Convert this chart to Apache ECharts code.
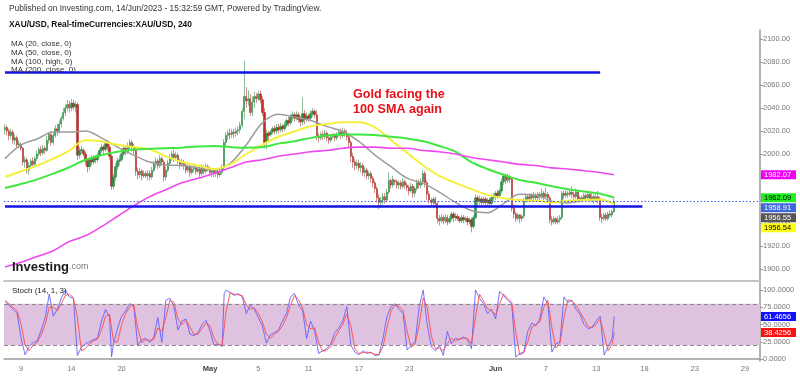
<!DOCTYPE html>
<html>
<head>
<meta charset="utf-8">
<script src="https://cdn.jsdelivr.net/npm/echarts@6/dist/echarts.min.js"></script>
<style>
  html, body { margin: 0; padding: 0; background: #fff; }
  #chart { width: 800px; height: 376px; }
</style>
</head>
<body>
<div id="chart"></div>
<script>
// XAU/USD 4h candles, 5 Apr -> 14 Jun 2023, [open, close, low, high]
const candles = [
  [2021,2023,2017,2026],[2023,2020,2016,2025],
  [2020,2016,2012,2022],[2016,2019,2013,2022],[2019,2012,2009,2021],[2012,2014,2008,2017],[2014,2008,2005,2016],[2008,2009,2005,2012],
  [2008,2005,2003,2010],
  [2005,1993,1990,2006],[1993,1995,1988,1998],[1995,1986,1983,1997],[1986,1990,1982,1993],[1990,1994,1987,1996],[1994,1991,1988,1997],
  [1991,1996,1989,1998],[1996,2000,1994,2003],[2000,2004,1998,2006],[2004,2001,1998,2007],[2001,2005,1999,2008],[2005,2003,2000,2007],
  [2003,2012,2002,2016],[2012,2017,2009,2019],[2017,2010,2007,2020],[2010,2016,2008,2019],[2016,2022,2014,2025],[2022,2020,2016,2026],
  [2020,2026,2018,2029],[2026,2031,2023,2033],[2031,2036,2029,2040],[2036,2040,2033,2043],[2040,2043,2037,2047],[2043,2040,2036,2046],
  [2040,2044,2037,2048],[2044,2041,2038,2047],[2041,2043,2036,2046],[2043,1999,1995,2045],[1999,2003,1996,2006],[2003,2004,2000,2007],
  [2003,2000,1998,2005],
  [2000,1994,1990,2002],[1994,1989,1984,1996],[1989,1995,1986,1997],[1995,1993,1990,1999],[1993,1996,1991,1999],[1996,1995,1992,1999],
  [1995,1999,1993,2001],[1999,2003,1997,2005],[2003,2006,2001,2009],[2006,2004,2000,2008],[2004,2009,2002,2012],[2009,2006,2003,2012],
  [2006,1998,1995,2009],[1998,1972,1969,2000],[1972,1980,1969,1983],[1980,1989,1977,1992],[1989,1994,1986,1997],[1994,1995,1990,1999],
  [1995,2000,1993,2003],[2000,2005,1998,2008],[2005,2002,1999,2008],[2002,2007,2000,2010],[2007,2010,2004,2013],[2010,2006,2002,2012],
  [2006,2003,2000,2009],[2003,1985,1981,2005],[1985,1982,1978,1988],[1982,1985,1979,1988],[1985,1981,1977,1987],[1981,1983,1979,1986],
  [1983,1981,1979,1985],
  [1981,1983,1977,1986],[1983,1980,1977,1986],[1980,1986,1978,1989],[1986,1991,1984,1994],[1991,1994,1988,1997],[1994,1990,1987,1996],
  [1990,1996,1988,1999],[1996,1993,1990,1998],[1993,1980,1976,1995],[1980,1986,1977,1989],[1986,1992,1984,1995],[1992,1997,1990,2000],
  [1997,2000,1994,2003],[2000,1997,1993,2004],[1997,1999,1994,2002],[1999,1994,1991,2001],[1994,1991,1987,1996],[1991,1993,1989,1996],
  [1993,1990,1986,1995],[1990,1986,1983,1992],[1986,1989,1984,1991],[1989,1984,1980,1991],[1984,1987,1982,1990],[1987,1988,1984,1991],
  [1988,1985,1982,1990],[1985,1987,1983,1989],[1987,1983,1980,1989],[1983,1988,1981,1991],[1988,1985,1982,1990],[1985,1989,1983,1992],
  [1989,1987,1985,1991],
  [1987,1984,1981,1989],[1984,1986,1980,1988],[1986,1983,1980,1988],[1983,1985,1980,1987],[1985,1982,1979,1987],[1982,1984,1980,1986],
  [1984,1988,1982,1991],[1988,2010,1986,2013],[2010,2016,2006,2019],[2016,2018,2012,2021],[2018,2017,2013,2022],[2017,2019,2014,2022],
  [2019,2018,2014,2022],[2018,2020,2015,2023],[2020,2021,2016,2024],[2021,2025,2018,2028],[2025,2037,2023,2040],[2037,2050,2030,2081],
  [2050,2046,2040,2058],[2046,2048,2042,2055],[2048,2036,2033,2052],[2036,2045,2033,2050],[2045,2050,2040,2054],[2050,2048,2044,2053],
  [2048,2052,2046,2055],[2052,2047,2044,2055],[2047,2036,2033,2050],[2036,2010,2005,2040],[2010,2018,2004,2021],[2018,2016,2012,2020],
  [2017,2019,2015,2021],
  [2019,2022,2017,2024],[2022,2020,2017,2025],[2020,2023,2018,2026],[2023,2021,2018,2026],[2021,2024,2019,2027],[2024,2022,2019,2026],
  [2022,2025,2020,2028],[2025,2029,2023,2031],[2029,2027,2024,2032],[2027,2032,2025,2035],[2032,2034,2029,2037],[2034,2031,2028,2036],
  [2031,2034,2029,2037],[2034,2030,2027,2036],[2030,2028,2024,2033],[2028,2035,2025,2049],[2035,2030,2026,2038],[2030,2033,2028,2036],
  [2033,2031,2028,2035],[2031,2035,2029,2038],[2035,2037,2032,2040],[2037,2034,2031,2039],[2034,2015,2012,2038],[2015,2014,2010,2018],
  [2014,2017,2012,2019],[2017,2015,2012,2020],[2015,2018,2013,2021],[2018,2014,2011,2020],[2014,2012,2009,2017],[2012,2015,2010,2017],
  [2015,2016,2013,2018],
  [2016,2014,2011,2018],[2014,2017,2012,2019],[2017,2019,2015,2021],[2019,2016,2013,2022],[2016,2020,2014,2023],[2020,2018,2015,2022],
  [2018,2015,2012,2021],[2015,2010,2006,2018],[2010,1998,1993,2012],[1998,1993,1988,2001],[1993,1990,1986,1996],[1990,1992,1987,1995],
  [1992,1988,1985,1995],[1988,1990,1984,1993],[1990,1984,1981,1992],[1984,1986,1980,1989],[1986,1981,1978,1988],[1981,1983,1978,1985],
  [1983,1979,1975,1985],[1979,1975,1971,1981],[1975,1970,1966,1977],[1970,1962,1958,1972],[1962,1958,1952,1965],[1958,1960,1955,1963],
  [1960,1963,1956,1966],[1963,1960,1957,1966],[1960,1967,1958,1970],[1967,1977,1965,1984],[1977,1973,1970,1979],[1973,1978,1971,1981],
  [1977,1976,1973,1978],
  [1976,1973,1970,1978],[1973,1975,1970,1977],[1975,1972,1969,1977],[1972,1976,1970,1979],[1976,1973,1970,1978],[1973,1971,1968,1975],
  [1971,1968,1964,1973],[1968,1972,1966,1975],[1972,1966,1962,1974],[1966,1970,1963,1972],[1970,1975,1968,1978],[1975,1973,1970,1978],
  [1973,1976,1970,1979],[1976,1983,1973,1986],[1983,1975,1971,1985],[1975,1965,1960,1977],[1965,1960,1957,1968],[1960,1958,1955,1962],
  [1958,1961,1955,1963],[1961,1957,1954,1963],[1957,1944,1940,1959],[1944,1942,1938,1947],[1942,1945,1940,1948],[1945,1942,1939,1947],
  [1942,1945,1940,1948],[1945,1941,1938,1947],[1941,1944,1939,1946],[1944,1948,1942,1950],[1948,1945,1941,1950],[1945,1946,1942,1949],
  [1946,1944,1942,1948],
  [1944,1942,1940,1946],[1942,1945,1940,1947],[1945,1943,1940,1947],[1943,1944,1941,1946],[1944,1941,1938,1946],[1941,1943,1939,1945],
  [1943,1937,1932,1945],[1937,1945,1935,1947],[1945,1962,1943,1965],[1962,1959,1955,1964],[1959,1961,1956,1964],[1961,1958,1955,1963],
  [1958,1961,1956,1963],[1961,1958,1955,1963],[1958,1960,1955,1962],[1960,1957,1953,1962],[1957,1962,1954,1965],[1962,1963,1959,1966],
  [1963,1966,1960,1968],[1966,1964,1961,1969],[1964,1968,1962,1970],[1968,1976,1966,1979],[1976,1981,1973,1983],[1981,1977,1974,1983],
  [1977,1980,1975,1983],[1980,1978,1975,1982],[1978,1953,1950,1980],[1953,1948,1944,1956],[1948,1944,1941,1950],[1944,1947,1942,1949],
  [1947,1944,1940,1948],
  [1944,1946,1941,1948],[1946,1960,1944,1962],[1960,1963,1958,1966],[1963,1961,1958,1965],[1961,1964,1959,1966],[1964,1962,1959,1966],
  [1962,1964,1960,1967],[1964,1962,1959,1966],[1962,1965,1960,1967],[1965,1963,1960,1967],[1963,1966,1961,1970],[1966,1963,1960,1968],
  [1963,1965,1961,1971],[1965,1962,1959,1967],[1962,1943,1940,1964],[1943,1941,1938,1946],[1941,1944,1939,1946],[1944,1941,1939,1945],
  [1941,1943,1939,1946],[1943,1945,1940,1947],[1945,1966,1943,1968],[1966,1964,1961,1968],[1964,1966,1962,1969],[1966,1965,1962,1968],
  [1965,1967,1963,1969],[1967,1965,1962,1972],[1965,1963,1960,1967],[1963,1967,1961,1970],[1967,1961,1958,1969],[1961,1962,1958,1964],
  [1962,1961,1959,1964],
  [1961,1964,1959,1966],[1964,1962,1959,1966],[1962,1965,1960,1967],[1965,1961,1958,1968],[1961,1963,1958,1966],[1963,1960,1957,1965],
  [1960,1963,1958,1966],[1963,1961,1957,1968],[1961,1945,1942,1963],[1945,1944,1940,1948],[1944,1947,1942,1949],[1947,1944,1942,1949],
  [1944,1948,1942,1950],[1948,1947,1945,1951],[1947,1950,1945,1952],[1950,1958.91,1949,1961]
];

// moving averages, [candle index, value]
const ma20 = [[0,1996],[8,2008],[16,2013],[24,2019],[32,2019],[40,2020],[48,2014],[56,2006],[64,1999],[72,1993],[80,1990.5],[88,1990],[96,1988],[104,1986],[112,1992],[120,2008],[128,2027],[136,2034.5],[144,2032],[152,2029],[160,2024],[168,2019.5],[176,2011],[184,1999],[192,1989],[200,1979],[208,1974.5],[216,1967],[224,1958],[232,1951],[240,1949],[248,1957],[256,1965],[264,1964.5],[272,1959],[280,1957.5],[288,1960],[296,1960.5],[303,1956.55]];
const ma50 = [[0,1980],[8,1985],[16,1990],[24,1996],[32,2003],[40,2012],[48,2011],[56,2008],[64,2006],[72,2004],[80,1998],[88,1993],[96,1990],[104,1987],[112,1991],[120,2000],[128,2008],[136,2015],[144,2019.5],[152,2024],[160,2026],[168,2027.5],[176,2027.5],[184,2023],[192,2012],[200,2001],[208,1990],[216,1981],[224,1975],[232,1969.5],[240,1964.5],[248,1961.5],[256,1960],[264,1959.5],[272,1958],[280,1959.5],[288,1960],[296,1960.5],[303,1956.54]];
const ma100 = [[0,1970.5],[8,1974],[16,1978],[24,1983],[32,1988.5],[40,1995],[48,1999],[56,2002],[64,2004],[72,2004.5],[80,2005],[88,2005.5],[96,2006.5],[104,2007],[112,2006],[120,2005.5],[128,2006],[136,2009],[144,2011],[152,2014],[160,2016],[168,2017],[176,2017],[184,2016.5],[192,2015],[200,2013.5],[208,2011],[216,2007],[224,2002],[232,1993],[240,1987],[248,1982],[256,1977.5],[264,1975],[272,1972],[280,1969.5],[288,1967.5],[296,1965.5],[303,1962.09]];
const ma200 = [[0,1902],[8,1906],[16,1911],[24,1916],[32,1924],[40,1929],[48,1937],[56,1946],[64,1955],[72,1963],[80,1969],[88,1975],[96,1979],[104,1983],[112,1988],[120,1993],[128,1995],[136,1998],[144,2000],[152,2002],[160,2003],[168,2005],[176,2006],[184,2006],[192,2005],[200,2005],[208,2003],[216,2002],[224,2000],[232,1997],[240,1995],[248,1993],[256,1991],[264,1990],[272,1988],[280,1987],[288,1985.5],[296,1984],[303,1982.07]];

// Stoch (14, 1, 3)
const stochK = [[0,83],[2,78],[4,72],[6,66],[8,30],[10,6],[12,18],[14,24],[16,26],[18,42],[20,60],[22,94],[24,62],[26,72],[28,88],[30,100],[32,90],[34,88],[36,5],[38,17],[40,22],[42,25],[44,28],[46,30],[48,55],[50,72],[52,60],[53,3],[54,22],[56,45],[58,62],[60,70],[62,80],[64,78],[66,20],[68,28],[70,30],[72,24],[74,32],[76,60],[78,24],[80,85],[82,88],[84,76],[86,42],[88,55],[90,58],[92,36],[94,34],[96,38],[98,50],[100,56],[102,40],[104,20],[106,22],[108,18],[109,95],[110,100],[112,96],[114,92],[116,95],[118,90],[120,66],[122,78],[124,72],[126,60],[128,48],[130,23],[132,35],[134,38],[136,42],[138,55],[140,66],[142,90],[144,95],[146,78],[148,70],[150,30],[152,55],[154,40],[156,8],[158,12],[160,15],[162,22],[164,38],[166,45],[168,55],[170,76],[172,20],[174,10],[176,6],[178,12],[180,8],[182,10],[184,5],[186,6],[188,30],[190,62],[192,76],[194,80],[196,72],[198,66],[200,13],[202,20],[204,25],[206,76],[208,100],[210,50],[212,18],[214,12],[216,20],[218,5],[220,40],[222,22],[224,30],[226,28],[228,32],[230,28],[232,15],[234,100],[236,88],[238,80],[240,66],[242,72],[244,58],[246,98],[248,92],[250,85],[252,80],[254,3],[256,8],[258,10],[260,40],[262,52],[264,48],[266,58],[268,90],[270,80],[272,10],[274,22],[276,25],[278,90],[280,82],[282,85],[284,72],[286,65],[288,50],[290,44],[292,46],[294,55],[296,62],[298,6],[300,18],[302,30],[303,61.4656]];
const stochD = [[0,85],[2,80],[4,75],[6,70],[8,50],[10,20],[12,12],[14,20],[16,24],[18,35],[20,50],[22,75],[24,75],[26,70],[28,80],[30,92],[32,94],[34,89],[36,60],[38,12],[40,15],[42,22],[44,26],[46,29],[48,42],[50,62],[52,65],[54,25],[56,25],[58,50],[60,66],[62,75],[64,79],[66,45],[68,24],[70,28],[72,27],[74,28],[76,45],[78,40],[80,60],[82,85],[84,82],[86,58],[88,50],[90,56],[92,46],[94,36],[96,36],[98,44],[100,52],[102,48],[104,30],[106,21],[108,20],[110,70],[112,96],[114,94],[116,93],[118,92],[120,78],[122,72],[124,74],[126,66],[128,54],[130,36],[132,30],[134,36],[136,40],[138,48],[140,60],[142,78],[144,92],[146,86],[148,74],[150,50],[152,44],[154,45],[156,24],[158,11],[160,13],[162,18],[164,30],[166,41],[168,50],[170,65],[172,48],[174,15],[176,8],[178,9],[180,10],[182,9],[184,7],[186,6],[188,18],[190,45],[192,70],[194,78],[196,76],[198,70],[200,40],[202,17],[204,22],[206,50],[208,88],[210,75],[212,34],[214,15],[216,16],[218,12],[220,22],[222,30],[224,26],[226,29],[228,30],[230,30],[232,22],[234,60],[236,94],[238,84],[240,73],[242,70],[244,64],[246,80],[248,94],[250,88],[252,82],[254,40],[256,6],[258,9],[260,25],[262,46],[264,50],[266,54],[268,75],[270,85],[272,45],[274,16],[276,23],[278,60],[280,86],[282,84],[284,78],[286,68],[288,58],[290,47],[292,45],[294,50],[296,58],[298,35],[300,12],[302,22],[303,38.4256]];

// x axis ticks
const tickDays = ['2023-04-09','2023-04-14','2023-04-20','2023-05-01','2023-05-05','2023-05-11','2023-05-17','2023-05-23','2023-06-01','2023-06-07','2023-06-13','2023-06-18','2023-06-23','2023-06-29'];
const tickText = ['9','14','20','May','5','11','17','23','Jun','7','13','18','23','29'];
const closedDays = ['2023-04-07']; // Good Friday

const priceTicks = [1900, 1920, 1940, 1960, 1980, 2000, 2020, 2040, 2060, 2080, 2100];
const stochTicks = [0, 25, 50, 75, 100];
const resistance = 2071;  // drawn line, ends mid Jun 13
const support = 1954.5;   // drawn line, ends Jun 16

const N_SLOTS = 376; // candle slots incl. empty right margin
const FONT = "'Liberation Sans', Arial, sans-serif";

// 4h slots: 6 per weekday, 1 on Sunday evening
function build_categories(count) {
    const out = [];
    const d = new Date(Date.UTC(2023, 3, 5));
    while (out.length < count + 4) {
        const iso = d.toISOString().slice(0, 10);
        const dow = d.getUTCDay();
        if (dow === 0) out.push(iso + ' 20');
        else if (dow !== 6 && !closedDays.includes(iso))
            ['00', '04', '08', '12', '16', '20'].forEach((h) => out.push(iso + ' ' + h));
        d.setUTCDate(d.getUTCDate() + 1);
    }
    return out.slice(4, 4 + count); // chart opens on Apr 5 afternoon
}

const categories = build_categories(N_SLOTS);
const tickMap = new Map();
tickDays.forEach((day, k) => {
    const cat = categories.find((c) => c.startsWith(day));
    if (cat) tickMap.set(cat, tickText[k]);
});

const chart = echarts.init(document.getElementById('chart'), null, { renderer: 'canvas' });

const ma_line = (name, data, color, width) => ({
    name, type: 'line', data, xAxisIndex: 0, yAxisIndex: 0,
    showSymbol: false, smooth: 0.35, silent: true, z: 3,
    lineStyle: { color, width },
});

chart.setOption({
    animation: false,
    backgroundColor: '#fff',
    grid: [
        { left: 4, right: 40, top: 30, height: 251 },
        { left: 4, right: 40, top: 282, height: 79 },
    ],
    xAxis: [
        {
            type: 'category', gridIndex: 0, data: categories,
            axisLine: { lineStyle: { color: '#c4c4c4', width: 2 } },
            axisTick: { show: false }, axisLabel: { show: false },
        },
        {
            type: 'category', gridIndex: 1, data: categories,
            axisLine: { lineStyle: { color: '#9a9a9a', width: 1.5 } },
            axisTick: {
                alignWithLabel: true, length: 2, lineStyle: { color: '#999' },
                interval: (i, v) => tickMap.has(v),
            },
            axisLabel: {
                interval: (i, v) => tickMap.has(v),
                formatter: (v) => {
                    const t = tickMap.get(v) || '';
                    return /^[A-Z]/.test(t) ? '{b|' + t + '}' : t;
                },
                color: '#777', fontSize: 7.5, fontFamily: FONT, margin: 4,
                rich: { b: { fontWeight: 'bold', color: '#444', fontSize: 7.5, fontFamily: FONT } },
            },
        },
    ],
    yAxis: [
        {
            type: 'value', gridIndex: 0, position: 'right', min: 1889.8, max: 2107.6, scale: true,
            splitLine: { show: false },
            axisLine: { show: true, lineStyle: { color: '#9a9a9a', width: 1.5 } },
            axisTick: { show: true, length: 3, customValues: priceTicks, lineStyle: { color: '#999' } },
            axisLabel: {
                customValues: priceTicks, formatter: (v) => v.toFixed(2),
                color: '#777', fontSize: 7.5, fontFamily: FONT, margin: 3,
            },
        },
        {
            type: 'value', gridIndex: 1, position: 'right', min: -2.9, max: 111.6,
            splitLine: { show: false },
            axisLine: { show: true, lineStyle: { color: '#9a9a9a', width: 1.5 } },
            axisTick: { show: true, length: 3, customValues: stochTicks, lineStyle: { color: '#999' } },
            axisLabel: {
                customValues: stochTicks, formatter: (v) => v.toFixed(4),
                color: '#777', fontSize: 7.5, fontFamily: FONT, margin: 3,
            },
        },
    ],
    series: [
        {
            name: 'XAU/USD', type: 'candlestick', data: candles, xAxisIndex: 0, yAxisIndex: 0,
            barWidth: 1.8, silent: true, z: 2,
            itemStyle: {
                color: '#1f9a3e', color0: '#c42a22',
                borderColor: '#1b7d35', borderColor0: '#9e1f1a', borderWidth: 0.5,
            },
            markLine: {
                silent: true, symbol: 'none', label: { show: false },
                data: [
                    [{ coord: [0, resistance] }, { coord: [296, resistance] }],
                    [{ coord: [0, support] }, { coord: [317, support] }],
                ],
                lineStyle: { color: '#1414e6', width: 2.5, type: 'solid' },
            },
        },
        {
            name: 'last', type: 'line', data: [], xAxisIndex: 0, yAxisIndex: 0,
            markLine: {
                silent: true, symbol: 'none', label: { show: false },
                data: [{ yAxis: candles[candles.length - 1][1] }],
                lineStyle: { color: '#3a5ee8', width: 1, type: [1.5, 2] },
            },
        },
        ma_line('MA20', ma20, '#9c9c9c', 1.5),
        ma_line('MA50', ma50, '#f4f03a', 2),
        ma_line('MA100', ma100, '#3fe83f', 2),
        ma_line('MA200', ma200, '#ee48ee', 1.6),
        {
            name: '%K', type: 'line', data: stochK, xAxisIndex: 1, yAxisIndex: 1,
            showSymbol: false, silent: true, z: 3,
            lineStyle: { color: '#5a5aff', width: 1, opacity: 0.85 },
            markArea: {
                silent: true,
                itemStyle: { color: '#dec2df' },
                data: [[{ yAxis: 20 }, { yAxis: 80 }]],
            },
            markLine: {
                silent: true, symbol: 'none', label: { show: false },
                lineStyle: { color: '#8a8a8a', width: 1, type: [4, 3] },
                data: [{ yAxis: 20 }, { yAxis: 80 }],
            },
        },
        {
            name: '%D', type: 'line', data: stochD, xAxisIndex: 1, yAxisIndex: 1,
            showSymbol: false, silent: true, z: 3,
            lineStyle: { color: '#ff4a4a', width: 1, opacity: 0.9 },
        },
    ],
});

// value tags on the price axis, pushed apart when they collide
function axis_tags(items, y_index, gap) {
    const placed = items
        .map((t) => ({ ...t, y: chart.convertToPixel({ yAxisIndex: y_index }, t.value) }))
        .sort((a, b) => a.y - b.y);
    for (let k = 1; k < placed.length; k++) {
        if (placed[k].y < placed[k - 1].y + gap) placed[k].y = placed[k - 1].y + gap;
    }
    return placed.flatMap((t) => [
        { type: 'rect', shape: { x: 761, y: t.y - 4.5, width: 35, height: 9 }, style: { fill: t.bg }, z: 100 },
        {
            type: 'text', x: 764, y: t.y, z: 101,
            style: { text: t.text, fill: t.fg, fontSize: 7.5, fontFamily: FONT, verticalAlign: 'middle' },
        },
    ]);
}

const last = (arr) => arr[arr.length - 1][1];
const priceTags = [
    { value: last(ma200), bg: '#f000f0', fg: '#fff' },
    { value: last(ma100), bg: '#22ee22', fg: '#000' },
    { value: candles[candles.length - 1][1], bg: '#4068dc', fg: '#fff' },
    { value: last(ma20), bg: '#555555', fg: '#fff' },
    { value: last(ma50), bg: '#ffff1a', fg: '#000' },
].map((t) => ({ ...t, text: t.value.toFixed(2) }));
const stochTags = [
    { value: last(stochK), bg: '#1010ff', fg: '#fff' },
    { value: last(stochD), bg: '#ff1010', fg: '#fff' },
].map((t) => ({ ...t, text: t.value.toFixed(4) }));

const txt = (x, y, text, extra) => ({
    type: 'text', x, y, z: 50,
    style: Object.assign({ text, fontFamily: FONT, fontSize: 8, fill: '#333', verticalAlign: 'middle' }, extra),
});

chart.setOption({
    graphic: [
        txt(9, 9, 'Published on Investing.com, 14/Jun/2023 - 15:32:59 GMT, Powered by TradingView.', { fontSize: 8.4, fill: '#333' }),
        txt(9, 25, 'XAU/USD, Real-timeCurrencies:XAU/USD, 240', { fontSize: 8.4, fontWeight: 'bold', fill: '#111' }),
        txt(11, 44, 'MA (20, close, 0)'),
        txt(11, 53, 'MA (50, close, 0)'),
        txt(11, 62, 'MA (100, high, 0)'),
        txt(11, 70, 'MA (200, close, 0)'),
        txt(353, 95, 'Gold facing the', { fontSize: 12.6, fontWeight: 'bold', fill: '#e8101a' }),
        txt(353, 110, '100 SMA again', { fontSize: 12.6, fontWeight: 'bold', fill: '#e8101a' }),
        {
            type: 'text', x: 12, y: 267, z: 50,
            style: {
                text: '{a|Investing}{b|.com}', verticalAlign: 'middle',
                rich: {
                    a: { fontSize: 13, fontWeight: 'bold', fill: '#1a1a1a', fontFamily: FONT },
                    b: { fontSize: 9, fill: '#777', fontFamily: FONT },
                },
            },
        },
        txt(12, 291, 'Stoch (14, 1, 3)', { fill: '#222' }),
        ...axis_tags(priceTags, 0, 10),
        ...axis_tags(stochTags, 1, 10),
    ],
});
</script>
</body>
</html>
